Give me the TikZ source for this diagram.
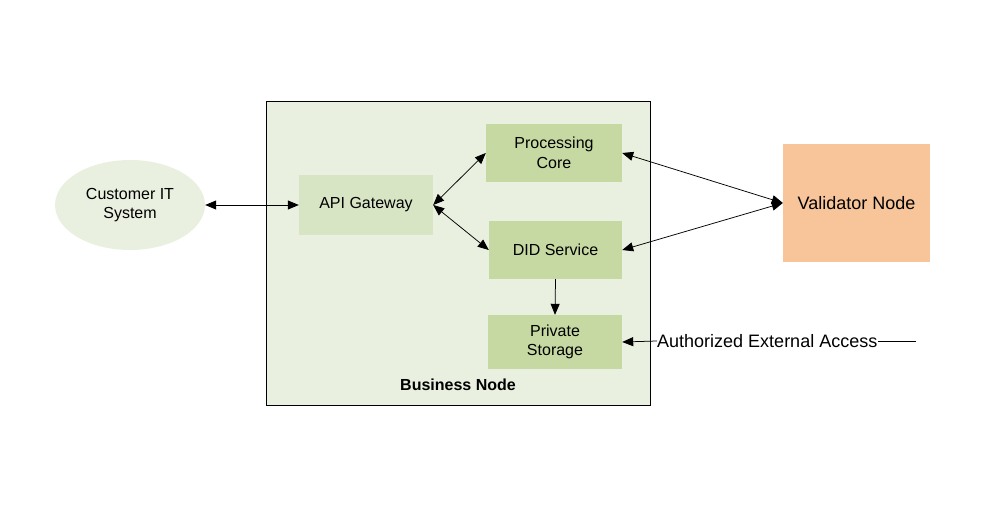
\documentclass[tikz,border=0pt]{standalone}
\usepackage{fontspec}
\setmainfont{Liberation Sans}
\usetikzlibrary{arrows.meta,positioning,shapes.geometric}
\definecolor{bgreen}{HTML}{E9F0DF}
\definecolor{cgreen}{HTML}{C6D9A2}
\definecolor{lgreen}{HTML}{D8E5C4}
\definecolor{vorange}{HTML}{F8C59B}
\tikzset{
  svc/.style={fill=cgreen, minimum width=134pt, minimum height=56pt, align=center, inner sep=0pt},
  link/.style={draw=black, line width=0.75pt, -{Triangle[length=11pt,width=9pt]}},
  dlink/.style={draw=black, line width=0.75pt, {Triangle[length=11pt,width=9pt]}-{Triangle[length=11pt,width=9pt]}}
}
\begin{document}
\begin{tikzpicture}[x=1pt, y=-1pt, font=\fontsize{16}{19.5}\selectfont]
\useasboundingbox (0,0) rectangle (992,529);
% business node frame
\draw[fill=bgreen, line width=0.9pt] (266,101) rectangle (650,405);
\node[font=\fontsize{16}{19}\selectfont\bfseries] (bizlabel) at (458,385) {Business Node};
% services inside
\node[svc, minimum width=136pt, minimum height=58pt] (core) at (554,153) {Processing\\Core};
\node[svc, fill=lgreen, minimum height=60pt] (api) at (366,205) {API Gateway};
\node[svc, minimum width=133pt, minimum height=58pt] (did) at (555.5,250) {DID Service};
\node[svc, minimum height=54pt] (store) at (555,342) {Private\\Storage};
% outside
\node[ellipse, fill=bgreen, minimum width=150pt, minimum height=90pt, inner sep=0pt, align=center] (cust) at (130,205) {Customer IT\\System};
\node[fill=vorange, minimum width=147pt, minimum height=118pt, inner sep=0pt, font=\fontsize{18}{21}\selectfont] (valid) at (856.5,203) {Validator Node};
% connectors
\draw[dlink] (cust.east) -- (api.west);
\draw[dlink] (api.east) -- (core.west);
\draw[dlink] (api.east) -- (did.west);
\draw[dlink] (valid.west) -- (core.east);
\draw[dlink] (valid.west) -- (did.east);
\draw[link] (did.south) -- (store.north);
% external access
\node[inner sep=0pt, anchor=west, font=\fontsize{18}{21}\selectfont] (ext) at (657,341) {Authorized External Access};
\coordinate (extend) at (916,341);
\draw[line width=0.75pt] (extend) -- (ext.east);
\draw[link] (ext.west) -- (store.east);
\end{tikzpicture}
\end{document}
